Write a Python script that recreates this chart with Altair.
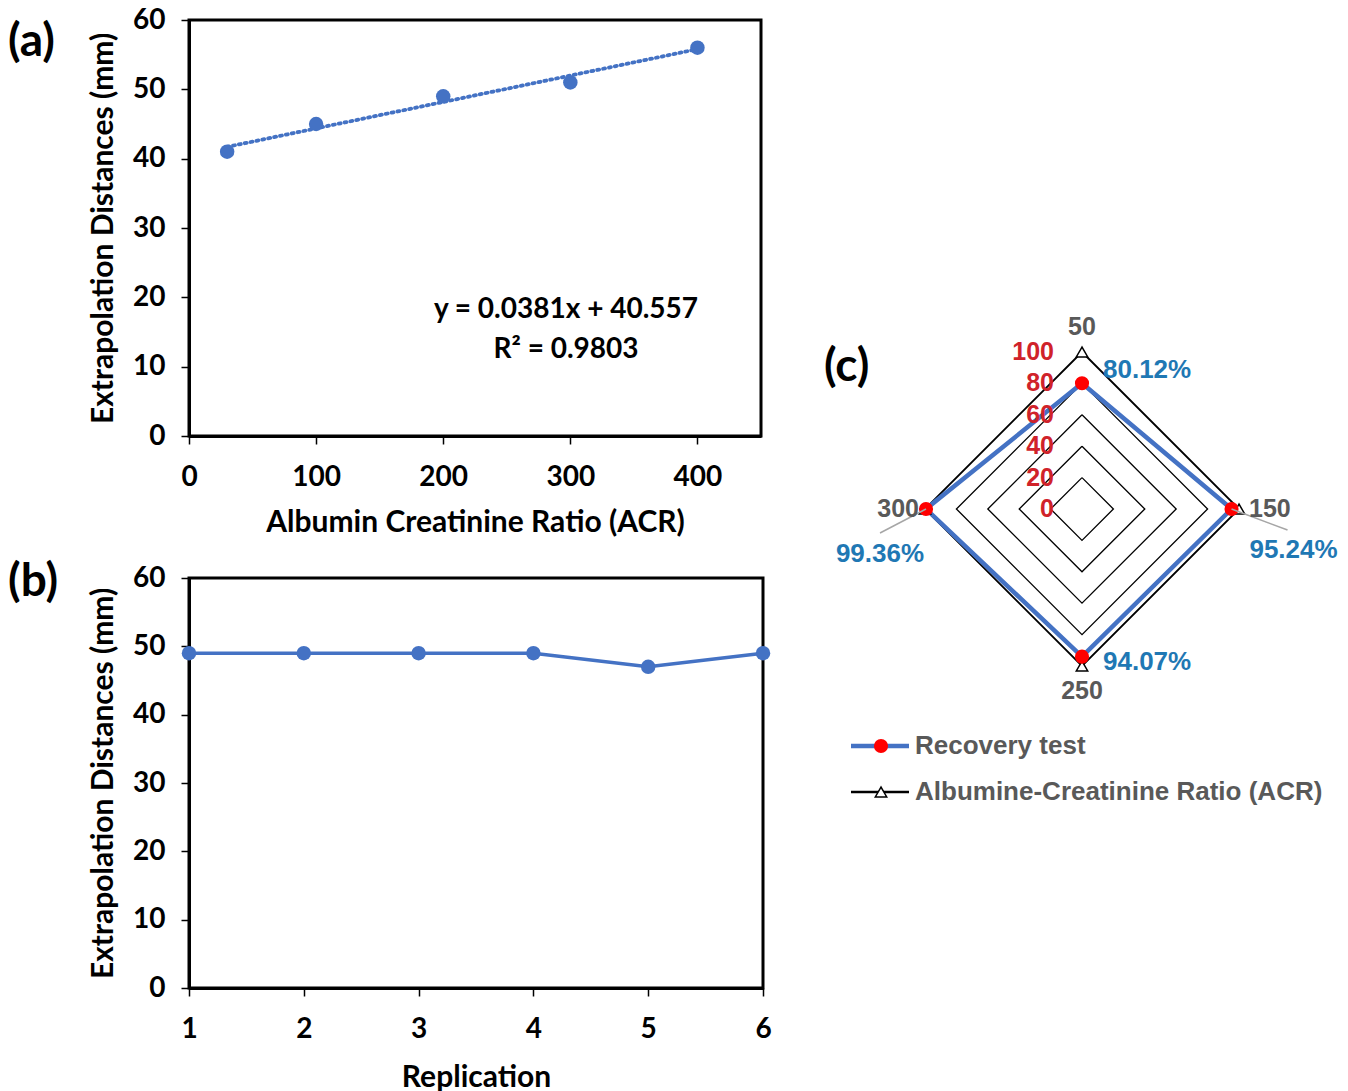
import math
import altair as alt
import pandas as pd

# ---------------- data ----------------
# (a) calibration
acr = [30, 100, 200, 300, 400]
dist_a = [41, 45, 49, 51, 56]
slope = 0.0381
intercept = 40.557
r2 = 0.9803

# (b) repeatability
replication = [1, 2, 3, 4, 5, 6]
dist_b = [49, 49, 49, 49, 47, 49]

# (c) radar
categories = ["50", "150", "250", "300"]
recovery = [80.12, 95.24, 94.07, 99.36]
acr_series = [100, 100, 100, 100]
grid_levels = [20, 40, 60, 80]
radial_ticks = [0, 20, 40, 60, 80, 100]

BLUE = "#4472C4"
RED = "#FF0000"
LBL_BLUE = "#1F78B4"
GREY = "#595959"
AXRED = "#D0222A"
FONT_AB = "Lato"
FONT_C = "Liberation Sans"


def axis_style(**kw):
    base = dict(labelFont=FONT_AB, labelFontSize=28, labelFontWeight="bold", labelColor="black",
                titleFont=FONT_AB, titleFontSize=30, titleFontWeight="bold", titleColor="black",
                domainColor="black", domainWidth=3, tickColor="black", tickWidth=1.5, tickSize=8,
                grid=False, labelFlush=False, format="d")
    base.update(kw)
    return alt.Axis(**base)


one = pd.DataFrame({"a": [0]})


def free_text(t, x, y, size, color="black", font=FONT_AB, align="left", weight="bold"):
    return alt.Chart(pd.DataFrame({"t": [t]})).mark_text(
        font=font, fontSize=size, fontWeight=weight, color=color, align=align, baseline="middle"
    ).encode(text="t:N", x=alt.value(x), y=alt.value(y))


# ---------------- panel (a) ----------------
W_A, H_A = 572, 416
df_a = pd.DataFrame({"x": acr, "y": dist_a})
df_trend = pd.DataFrame({"x": [min(acr), max(acr)]})
df_trend["y"] = slope * df_trend["x"] + intercept

xa = alt.X("x:Q", scale=alt.Scale(domain=[0, 450], nice=False),
           axis=axis_style(values=[0, 100, 200, 300, 400], title="Albumin Creatinine Ratio (ACR)",
                           labelPadding=19, titlePadding=16))
ya = alt.Y("y:Q", scale=alt.Scale(domain=[0, 60], nice=False),
           axis=axis_style(values=list(range(0, 61, 10)), title="Extrapolation Distances (mm)",
                           labelPadding=16, titlePadding=14))

pts_a = alt.Chart(df_a).mark_circle(size=210, color=BLUE, opacity=1).encode(x=xa, y=ya)
trend_a = alt.Chart(df_trend).mark_line(color=BLUE, strokeWidth=3.8, strokeDash=[2, 4],
                                        strokeCap="round").encode(x="x:Q", y="y:Q")
eq1 = free_text(f"y = {slope}x + {intercept}", 377, 290, 28, align="center")
eq2 = free_text(f"R\u00b2 = {r2}", 377, 330, 28, align="center")
lab_a = free_text("(a)", -181, 22, 46)

panel_a = alt.layer(trend_a, pts_a, eq1, eq2, lab_a).properties(width=W_A, height=H_A)

# ---------------- panel (b) ----------------
W_B, H_B = 574, 410
df_b = pd.DataFrame({"x": replication, "y": dist_b})
xb = alt.X("x:Q", scale=alt.Scale(domain=[1, 6], nice=False),
           axis=axis_style(values=replication, title="Replication", labelPadding=19, titlePadding=19))
yb = alt.Y("y:Q", scale=alt.Scale(domain=[0, 60], nice=False),
           axis=axis_style(values=list(range(0, 61, 10)), title="Extrapolation Distances (mm)",
                           labelPadding=16, titlePadding=14))
line_b = alt.Chart(df_b).mark_line(color=BLUE, strokeWidth=3.5).encode(x=xb, y=yb)
pts_b = alt.Chart(df_b).mark_circle(size=210, color=BLUE, opacity=1).encode(x="x:Q", y="y:Q")
lab_b = free_text("(b)", -181, 4, 46)
panel_b = alt.layer(line_b, pts_b, lab_b).properties(width=W_B, height=H_B)

# ---------------- panel (c) radar ----------------
L_C, T_C = 815, 18          # page position of the panel's plot area
W_C, H_C = 525, 800
CX, CY = 1080, 507           # page position of the radar centre
K = 1.57                     # pixels per radial unit
xdom = [-(CX - L_C) / K, (W_C - (CX - L_C)) / K]
ydom = [-(H_C - (CY - T_C)) / K, (CY - T_C) / K]
sx = alt.Scale(domain=xdom, nice=False, zero=False)
sy = alt.Scale(domain=ydom, nice=False, zero=False)

n = len(categories)
angles = [i * 2 * math.pi / n for i in range(n)]


def ring(values, name):
    rows = []
    for j in range(n + 1):
        i = j % n
        rows.append({"series": name, "order": j, "cat": categories[i],
                     "x": values[i] * math.sin(angles[i]), "y": values[i] * math.cos(angles[i])})
    return rows


grid_rows = []
for lv in grid_levels:
    grid_rows += ring([lv] * n, str(lv))
df_grid = pd.DataFrame(grid_rows)
df_acr = pd.DataFrame(ring(acr_series, "acr"))
df_rec = pd.DataFrame(ring(recovery, "rec"))
df_rec_pts = df_rec[df_rec["order"] < n].copy()
df_rec_pts["lab"] = [f"{v:.2f}%" for v in recovery]
df_acr_pts = df_acr[df_acr["order"] < n].copy()

enc = dict(x=alt.X("x:Q", scale=sx, axis=None), y=alt.Y("y:Q", scale=sy, axis=None))

grid_c = alt.Chart(df_grid).mark_line(color="black", strokeWidth=1.3).encode(
    detail="series:N", order="order:Q", **enc)
acr_line = alt.Chart(df_acr).mark_line(color="black", strokeWidth=1.8).encode(
    order="order:Q", x="x:Q", y="y:Q")
acr_pts = alt.Chart(df_acr_pts).mark_point(shape="triangle-up", filled=True, fill="white",
                                           stroke="black", strokeWidth=1.5, size=130, opacity=1).encode(
    x="x:Q", y="y:Q")
rec_line = alt.Chart(df_rec).mark_line(color=BLUE, strokeWidth=4.5).encode(
    order="order:Q", x="x:Q", y="y:Q")
rec_pts = alt.Chart(df_rec_pts).mark_circle(color=RED, size=200, opacity=1).encode(x="x:Q", y="y:Q")

# radial tick labels
df_rt = pd.DataFrame({"x": [0] * len(radial_ticks), "y": radial_ticks, "t": [str(v) for v in radial_ticks]})
rt_text = alt.Chart(df_rt).mark_text(font=FONT_C, fontSize=25, fontWeight="bold", color=AXRED,
                                     align="right", baseline="middle", dx=-28).encode(
    x="x:Q", y="y:Q", text="t:N")

# category labels
df_cat = df_acr_pts.copy()
cat_layers = []
cat_style = [("center", "middle", 0, -25), ("left", "middle", 10, 0),
             ("center", "middle", 0, 25), ("right", "middle", -6, 0)]
for i, (al, bl, dx, dy) in enumerate(cat_style):
    cat_layers.append(alt.Chart(df_cat[df_cat["cat"] == categories[i]]).mark_text(
        font=FONT_C, fontSize=25, fontWeight="bold", color=GREY, align=al, baseline=bl, dx=dx, dy=dy
    ).encode(x="x:Q", y="y:Q", text="cat:N"))

# data labels (blue) with leader lines for two of them
lab_style = [("left", 21, -13), ("center", 62, 41), ("left", 21, 5), ("center", -46, 45)]
lab_layers = []
for i, (al, dx, dy) in enumerate(lab_style):
    lab_layers.append(alt.Chart(df_rec_pts[df_rec_pts["cat"] == categories[i]]).mark_text(
        font=FONT_C, fontSize=26, fontWeight="bold", color=LBL_BLUE, align=al, baseline="middle",
        dx=dx, dy=dy).encode(x="x:Q", y="y:Q", text="lab:N"))

lead = df_rec_pts[df_rec_pts["cat"].isin(["150", "300"])].copy()
lead_off = {"150": (56 / K, -21 / K), "300": (-46 / K, -24 / K)}
lead["x2"] = [r.x + lead_off[r.cat][0] for r in lead.itertuples()]
lead["y2"] = [r.y + lead_off[r.cat][1] for r in lead.itertuples()]
lead_c = alt.Chart(lead).mark_rule(color="#A6A6A6", strokeWidth=1.5).encode(
    x="x:Q", y="y:Q", x2="x2:Q", y2="y2:Q")

lab_c = free_text("(c)", 822 - L_C, 365 - T_C, 46)

# legend (drawn by hand)
leg_y1, leg_y2 = 744 - T_C, 790 - T_C
lx0, lx1, lxm = 849 - L_C, 907 - L_C, 879 - L_C
leg = [
    alt.Chart(one).mark_rule(color=BLUE, strokeWidth=4.5).encode(
        x=alt.value(lx0), x2=alt.value(lx1), y=alt.value(leg_y1)),
    alt.Chart(one).mark_point(shape="circle", filled=True, color=RED, size=200, opacity=1).encode(
        x=alt.value(lxm), y=alt.value(leg_y1)),
    alt.Chart(one).mark_rule(color="black", strokeWidth=2.5).encode(
        x=alt.value(lx0), x2=alt.value(lx1), y=alt.value(leg_y2)),
    alt.Chart(one).mark_point(shape="triangle-up", filled=True, fill="white", stroke="black",
                              strokeWidth=1.5, size=130, opacity=1).encode(
        x=alt.value(lxm), y=alt.value(leg_y2)),
    free_text("Recovery test", 913 - L_C, leg_y1, 26, color=GREY, font=FONT_C),
    free_text("Albumine-Creatinine Ratio (ACR)", 913 - L_C, leg_y2, 26, color=GREY, font=FONT_C),
]

panel_c = alt.layer(grid_c, acr_line, rec_line, acr_pts, rec_pts, lead_c, rt_text,
                    *cat_layers, *lab_layers, lab_c, *leg).properties(
    width=W_C, height=H_C, view=alt.ViewBackground(strokeOpacity=0))

left = alt.vconcat(panel_a, panel_b, spacing=18)
chart = alt.hconcat(left, panel_c, spacing=44).properties(
    padding={"left": 6, "top": 4, "right": 0, "bottom": 0}
).configure_view(stroke="black", strokeWidth=3)

chart.save("out.html", embed_options={"renderer": "svg", "actions": False})
